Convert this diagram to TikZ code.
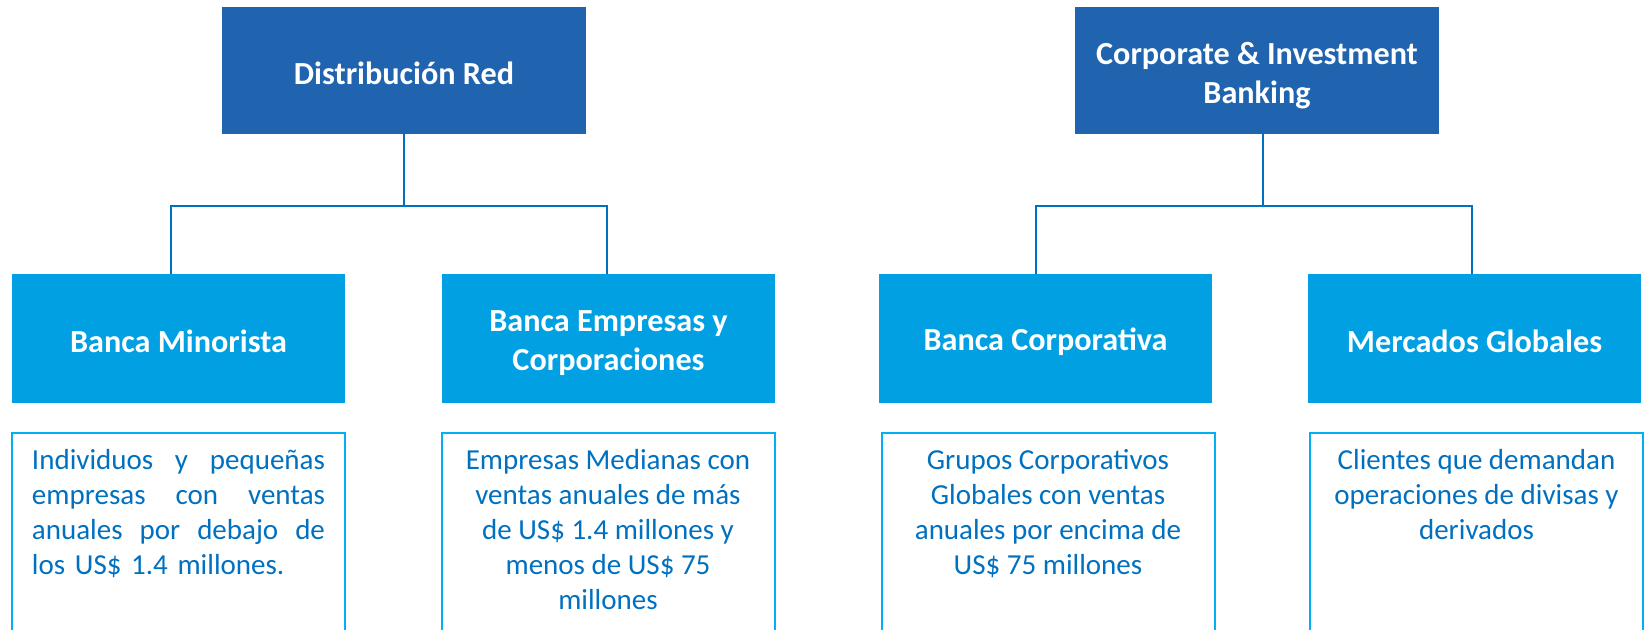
\documentclass[tikz,border=0pt]{standalone}
\usepackage{fontspec}
\setmainfont{Carlito}
\usetikzlibrary{calc}
\definecolor{topblue}{RGB}{32,100,175}
\definecolor{midblue}{RGB}{0,160,227}
\definecolor{txtblue}{RGB}{0,112,192}
\definecolor{bordblue}{RGB}{0,176,240}
\begin{document}
\begin{tikzpicture}[x=0.5pt,y=-0.5pt,
  topbox/.style={fill=topblue, minimum width=182pt, minimum height=63.5pt, inner sep=0pt},
  midbox/.style={fill=midblue, minimum width=166.5pt, minimum height=64.5pt, inner sep=0pt},
  headtext/.style={text=white, font=\bfseries\fontsize{16.1}{19.5}\selectfont,
    align=center, inner sep=0pt},
  descbox/.style={draw=bordblue, line width=1pt, minimum width=166.5pt, minimum height=115pt,
    anchor=north, inner sep=0pt},
  desctext/.style={text=txtblue, font=\fontsize{14.5}{17.5}\selectfont, anchor=north,
    align=center, inner sep=0pt},
  conn/.style={draw=txtblue, line width=1pt}]
\useasboundingbox (0,0) rectangle (1644,630);

% top boxes
\node[topbox] (dr) at (404,70.5) {};
\node[topbox] (cib) at (1257,70.5) {};
\node[headtext] (drt) at ($(dr.center)+(0,3)$) {Distribución Red};
\node[headtext] (cibt) at ($(cib.center)+(0,5)$) {Corporate \& Investment\\Banking};

% middle boxes
\node[midbox] (bm) at (178.5,338.5) {};
\node[midbox] (be) at (608.5,338.5) {};
\node[midbox] (bc) at (1045.5,338.5) {};
\node[midbox] (mg) at (1474.5,338.5) {};
\node[headtext] (bmt) at ($(bm.center)+(0,3)$) {Banca Minorista};
\node[headtext] (bet) at ($(be.center)+(0,5)$) {Banca Empresas y\\Corporaciones};
\node[headtext] (bct) at ($(bc.center)+(0,3)$) {Banca Corporativa};
\node[headtext] (mgt) at ($(mg.center)+(0,3)$) {Mercados Globales};

% description boxes
\node[descbox] (d1) at (178.5,432) {};
\node[descbox] (d2) at (608,432) {};
\node[descbox] (d3) at (1048,432) {};
\node[descbox] (d4) at (1476.5,432) {};

\node[desctext, align=left, text width=146.5pt] (t1) at ($(d1.north)+(0,17)$)
  {Individuos\hfill y\hfill pequeñas\\empresas\hfill con\hfill ventas\\anuales\hfill por\hfill debajo\hfill de\\\mbox{los US\$ 1.4 millones.}};
\node[desctext] (t2) at ($(d2.north)+(0,17)$)
  {Empresas Medianas con\\ventas anuales de más\\de US\$ 1.4 millones y\\menos de US\$ 75\\millones};
\node[desctext] (t3) at ($(d3.north)+(0,17)$)
  {Grupos Corporativos\\Globales con ventas\\anuales por encima de\\US\$ 75 millones};
\node[desctext] (t4) at ($(d4.north)+(0,17)$)
  {Clientes que demandan\\operaciones de divisas y\\derivados};

% connectors
\draw[conn] (dr.south) -- ++(0,72) coordinate (j1);
\draw[conn] ($(bm.north)+(-7.5,0)$) |- (j1) -| ($(be.north)+(-1.5,0)$);
\draw[conn] ($(cib.south)+(6,0)$) -- ++(0,72) coordinate (j2);
\draw[conn] ($(bc.north)+(-9.5,0)$) |- (j2) -| ($(mg.north)+(-2.5,0)$);
\end{tikzpicture}
\end{document}
